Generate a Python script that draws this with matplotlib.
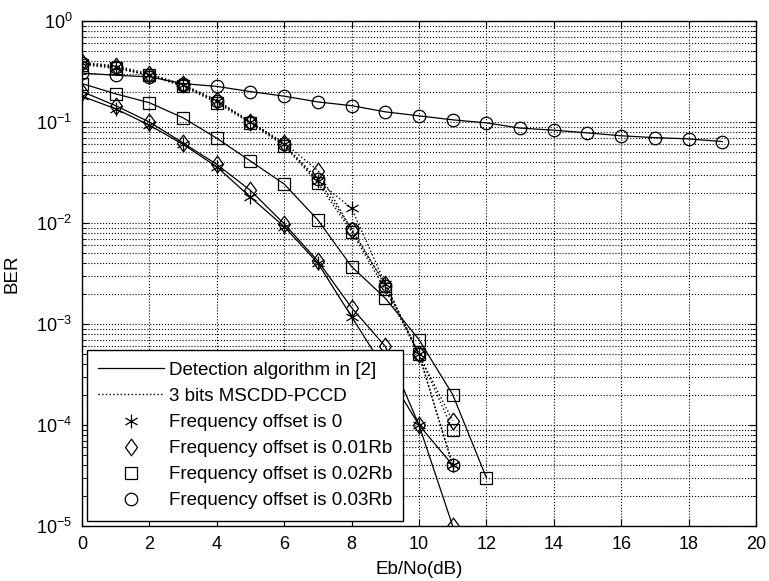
import numpy as np
import matplotlib.pyplot as plt
from matplotlib.lines import Line2D
from matplotlib.path import Path
from matplotlib.ticker import LogLocator, NullFormatter

plt.rcParams['font.family'] = ['Liberation Sans', 'DejaVu Sans']
plt.rcParams['mathtext.fontset'] = 'custom'
plt.rcParams['mathtext.rm'] = 'Liberation Sans'

# Eb/No points (dB)
snr_short = np.arange(0, 12)
snr_sq = np.arange(0, 13)
snr_long = np.arange(0, 20)

# Detection algorithm in [2] (solid)
ref_off0 = [0.18, 0.135, 0.093, 0.06, 0.036, 0.018, 0.0092, 0.004, 0.00118, 3.5e-4, 1e-4, 4e-5]
ref_off1 = [0.2, 0.145, 0.1, 0.062, 0.038, 0.021, 0.0098, 0.0042, 0.00145, 6e-4, 1e-4, 1e-5]
ref_off2 = [0.24, 0.19, 0.155, 0.11, 0.069, 0.041, 0.0243, 0.0107, 0.0037, 0.0018, 7e-4, 2e-4, 3e-5]
ref_off3 = [0.305, 0.29, 0.28, 0.24, 0.225, 0.2, 0.18, 0.158, 0.145, 0.126, 0.115, 0.105,
            0.098, 0.087, 0.083, 0.078, 0.073, 0.07, 0.068, 0.064]

# 3 bits MSCDD-PCCD (dotted)
new_off0 = [0.38, 0.35, 0.29, 0.23, 0.16, 0.1, 0.06, 0.026, 0.014, 0.0025, 5e-4, 4e-5]
new_off1 = [0.39, 0.36, 0.30, 0.235, 0.165, 0.1, 0.062, 0.033, 0.0085, 0.0025, 5e-4, 1.1e-4]
new_off2 = [0.37, 0.34, 0.29, 0.225, 0.155, 0.097, 0.058, 0.025, 0.0082, 0.0022, 5e-4, 9e-5]
new_off3 = [0.38, 0.35, 0.29, 0.23, 0.16, 0.1, 0.06, 0.027, 0.0088, 0.0024, 5e-4, 4e-5]

offset_labels = ['Frequency offset is 0', 'Frequency offset is 0.01Rb',
                 'Frequency offset is 0.02Rb', 'Frequency offset is 0.03Rb']

# matlab-like asterisk and diamond
asterisk = Path([(0, 1), (0, -1), (-0.87, 0.5), (0.87, -0.5), (-0.87, -0.5), (0.87, 0.5)],
                [Path.MOVETO, Path.LINETO] * 3)
diamond = Path([(0, 1), (0.72, 0), (0, -1), (-0.72, 0), (0, 1)],
               [Path.MOVETO] + [Path.LINETO] * 3 + [Path.CLOSEPOLY])
markers = [asterisk, diamond, 's', 'o']
msizes = [10, 12, 9, 9]

fig = plt.figure(figsize=(7.69, 5.81), dpi=100)
ax = fig.add_axes([0.1066, 0.0947, 0.8765, 0.8692])

ref = [(snr_short, ref_off0), (snr_short, ref_off1), (snr_sq, ref_off2), (snr_long, ref_off3)]
new = [(snr_short, new_off0), (snr_short, new_off1), (snr_short, new_off2), (snr_short, new_off3)]

for (x, y), m, ms in zip(new, markers, msizes):
    ax.semilogy(x, y, color='k', ls=':', lw=1.0, marker=m, ms=ms, mfc='none', mec='k', mew=0.9)
for (x, y), m, ms in zip(ref, markers, msizes):
    ax.semilogy(x, y, color='k', ls='-', lw=0.9, marker=m, ms=ms, mfc='none', mec='k', mew=0.9)

ax.set_xlim(0, 20)
ax.set_ylim(1e-5, 1)
ax.set_xticks(np.arange(0, 21, 2))
ax.yaxis.set_major_locator(LogLocator(base=10, numticks=10))
ax.yaxis.set_minor_locator(LogLocator(base=10, subs=np.arange(2, 10), numticks=20))
ax.yaxis.set_minor_formatter(NullFormatter())
ax.tick_params(which='both', direction='in', top=True, right=True, labelsize=13)
ax.tick_params(which='major', length=5)
ax.tick_params(which='minor', length=3)
ax.tick_params(axis='x', pad=7)
ax.tick_params(axis='y', pad=7)
ax.grid(True, which='major', color='k', ls=':', lw=0.8)
ax.grid(True, which='minor', axis='y', color='k', ls=':', lw=0.8)
for s in ax.spines.values():
    s.set_linewidth(1.0)

ax.set_xlabel('Eb/No(dB)', fontsize=13.5, labelpad=6)
ax.set_ylabel('BER', fontsize=13.5, labelpad=11)

handles = [Line2D([], [], color='k', ls='-', lw=0.9),
           Line2D([], [], color='k', ls=':', lw=1.0)]
handles += [Line2D([], [], ls='none', marker=m, ms=ms, mfc='none', mec='k', mew=0.9)
            for m, ms in zip(markers, msizes)]
labels = ['Detection algorithm in [2]', '3 bits MSCDD-PCCD'] + offset_labels
leg = ax.legend(handles, labels, loc='lower left', fontsize=13.5, frameon=True, fancybox=False,
                edgecolor='k', framealpha=1, borderaxespad=0.28, handlelength=3.5,
                handletextpad=0.25, labelspacing=0.48, borderpad=0.6)
leg.get_frame().set_linewidth(1.0)

fig.savefig('out.png', dpi=100)
